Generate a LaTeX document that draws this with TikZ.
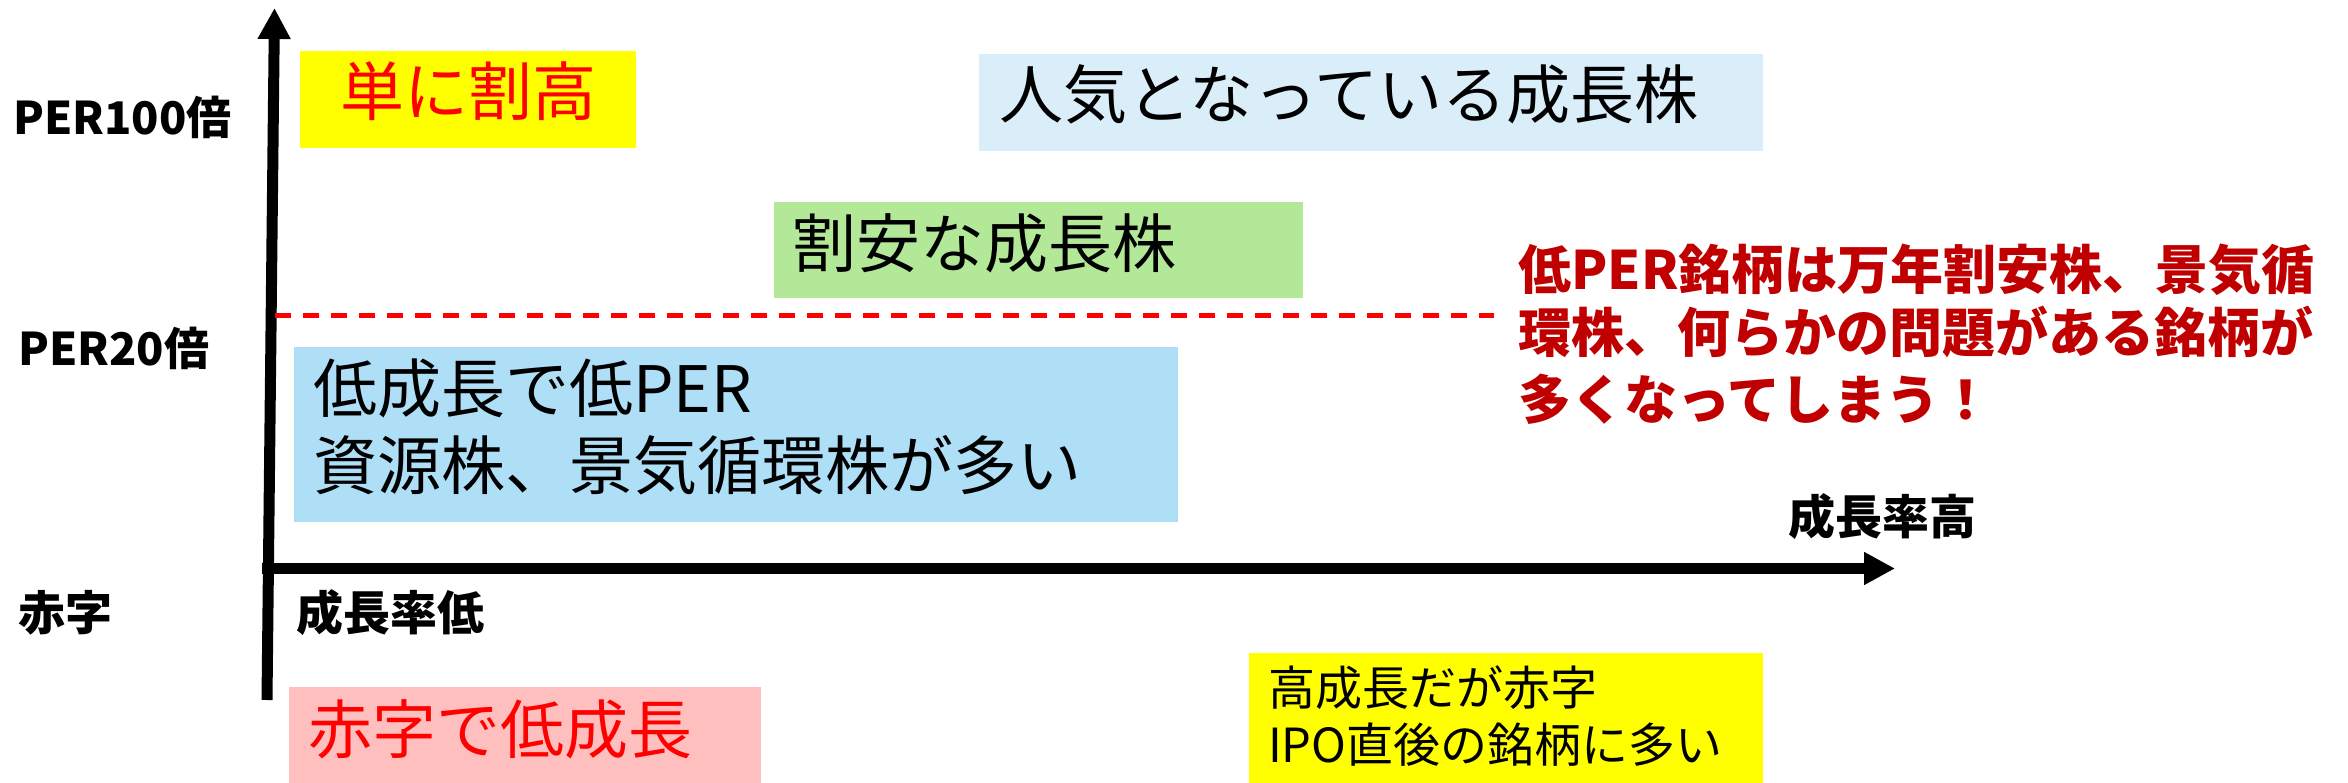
\documentclass[tikz,border=0pt]{standalone}
\usepackage{fontspec}
\setmainfont{Noto Sans CJK JP}
\usetikzlibrary{arrows.meta}
\definecolor{boxyellow}{HTML}{FFFF00}
\definecolor{txtred}{HTML}{FF0000}
\definecolor{notered}{HTML}{C00000}
\definecolor{boxlight}{HTML}{DAEEF9}
\definecolor{boxgreen}{HTML}{B3E898}
\definecolor{boxblue}{HTML}{AEDFF7}
\definecolor{boxpink}{HTML}{FFBFBF}
\tikzset{
  box/.style={draw=none, inner sep=0pt, anchor=north west},
  big/.style={inner sep=0pt, anchor=base west, font=\fontsize{64}{75}\selectfont},
  mid/.style={inner sep=0pt, anchor=base west, font=\fontsize{47}{56}\selectfont},
  lbl/.style={inner sep=0pt, anchor=base west, font=\bfseries\fontsize{47}{56}\selectfont},
  perlbl/.style={inner sep=0pt, anchor=base west, font=\bfseries\fontsize{45}{54}\selectfont},
  note/.style={inner sep=0pt, anchor=base west, text=notered, font=\bfseries\fontsize{53}{63}\selectfont},
  axis/.style={line width=11pt, -{Triangle[length=31pt,width=31pt]}},
  level/.style={draw=txtred, line width=4.5pt, dash pattern=on 16pt off 12pt}
}
\begin{document}
\begin{tikzpicture}[x=1pt,y=-1pt]
\useasboundingbox (0,0) rectangle (2348,783);
% boxes
\node[box, fill=boxyellow, minimum width=336pt, minimum height=97pt] (bhigh) at (300,51) {};
\node[box, fill=boxlight, minimum width=784pt, minimum height=97pt] (bpop) at (979,54) {};
\node[box, fill=boxgreen, minimum width=529pt, minimum height=96pt] (bcheap) at (774,202) {};
\node[box, fill=boxblue, minimum width=884pt, minimum height=175pt] (blow) at (294,347) {};
\node[box, fill=boxpink, minimum width=472pt, minimum height=96pt] (bred) at (289,687) {};
\node[box, fill=boxyellow, minimum width=514pt, minimum height=130pt] (bipo) at (1249,653) {};
% box texts
\node[big, text=txtred, anchor=base] (thigh) at (468,116) {単に割高};
\node[big] (tpop) at (999,119) {人気となっている成長株};
\node[big] (tcheap) at (792,268) {割安な成長株};
\node[big] (tlow1) at (313,413) {低成長で低PER};
\node[big] (tlow2) at (313,489) {資源株、景気循環株が多い};
\node[big, text=txtred] (tred) at (308,753) {赤字で低成長};
\node[mid] (tipo1) at (1268,705) {高成長だが赤字};
\node[mid] (tipo2) at (1268,762) {IPO直後の銘柄に多い};
% note
\node[note] (n1) at (1518,290) {低PER銘柄は万年割安株、景気循};
\node[note] (n2) at (1518,353) {環株、何らかの問題がある銘柄が};
\node[note] (n3) at (1518,419) {多くなってしまう！};
% axis labels
\node[perlbl] (l100) at (13,135) {PER100倍};
\node[perlbl] (l20) at (18,366) {PER20倍};
\node[lbl] (lred) at (18,630) {赤字};
\node[lbl] (llow) at (296,630) {成長率低};
\node[lbl] (lhigh) at (1788,534) {成長率高};
% axes
\coordinate (vs) at (267,700);
\coordinate (ve) at (274.5,8);
\coordinate (hs) at (262,568.5);
\coordinate (he) at (1895,568.5);
\draw[axis] (vs) -- (ve);
\draw[axis] (hs) -- (he);
% PER20 level line
\coordinate (ds) at (275,315.5);
\coordinate (de) at (1494,315.5);
\draw[level] (ds) -- (de);
\end{tikzpicture}
\end{document}
